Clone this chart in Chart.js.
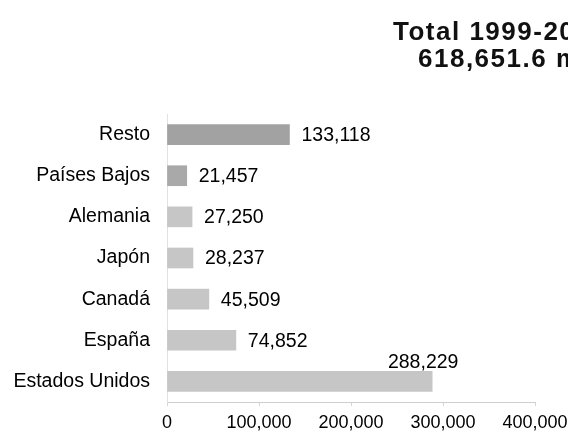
<!DOCTYPE html>
<html>
<head>
    <title>Total 1999-2004</title>
    <meta charset="utf-8">
    <script src="https://cdn.jsdelivr.net/npm/chart.js@4/dist/chart.umd.min.js"></script>
    <style>
      html, body { margin: 0; padding: 0; background: #fff; overflow: hidden; }
      .wrap { position: relative; width: 568px; height: 440px; overflow: hidden; }
      .title {
        position: absolute;
        font-family: "Liberation Sans", Arial, sans-serif;
        font-weight: bold;
        font-size: 26px;
        color: #111;
        white-space: nowrap;
        letter-spacing: 1.5px;
      }
      #t1 { left: 393px; top: 16px; }
      #t2 { left: 418px; top: 43px; }
      canvas { position: absolute; left: 0; top: 0; }
    </style>
</head>
<body>
    <div class="wrap">
        <canvas id="chart" width="568" height="440"></canvas>
        <div class="title" id="t1">Total 1999-2004</div>
        <div class="title" id="t2">618,651.6 mdd</div>
    </div>

    <script>
        // categorias de arriba hacia abajo
        const paises = ['Resto', 'Países Bajos', 'Alemania', 'Japón', 'Canadá', 'España', 'Estados Unidos'];
        const montos = [133118, 21457, 27250, 28237, 45509, 74852, 288229];
        const xTicks = [0, 100000, 200000, 300000, 400000];

        function fmt(v) {
            return v.toLocaleString('en-US');
        }

        function barColor(i) {
            if (i === 0) return '#a2a2a2';
            if (i === 1) return '#a9a9a9';
            return '#c6c6c6';
        }

        // etiquetas de valor junto a cada barra
        const valueLabels = {
            id: 'valueLabels',
            afterDatasetsDraw(chart) {
                const ctx = chart.ctx;
                const meta = chart.getDatasetMeta(0);
                ctx.save();
                ctx.font = '19.5px "Liberation Sans", Arial, sans-serif';
                ctx.fillStyle = '#000';
                ctx.textBaseline = 'middle';
                meta.data.forEach((bar, i) => {
                    const txt = fmt(montos[i]);
                    if (i === montos.length - 1) {
                        ctx.textAlign = 'center';
                        ctx.fillText(txt, bar.x - 9, bar.y - 19);
                    } else {
                        ctx.textAlign = 'left';
                        ctx.fillText(txt, bar.x + 12, bar.y + 1);
                    }
                });
                ctx.restore();
            }
        };

        let ctx = document.getElementById('chart').getContext('2d');
        let chart = new Chart(ctx, {
            type: 'bar',
            data: {
                labels: paises,
                datasets: [{
                    data: montos,
                    backgroundColor: montos.map((_, i) => barColor(i)),
                    borderWidth: 0,
                    barThickness: 20
                }]
            },
            options: {
                indexAxis: 'y',
                responsive: false,
                animation: false,
                layout: {
                    padding: { top: 114, right: 33, bottom: 0, left: 0 }
                },
                plugins: {
                    legend: { display: false },
                    tooltip: { enabled: false }
                },
                scales: {
                    x: {
                        min: 0,
                        max: 400000,
                        afterBuildTicks: scale => {
                            scale.ticks = xTicks.map(v => ({ value: v }));
                        },
                        afterFit: scale => {
                            scale.height = 38;
                            scale.paddingLeft = 0;
                            scale.paddingRight = 0;
                        },
                        grid: {
                            display: true,
                            drawOnChartArea: false,
                            drawTicks: true,
                            tickLength: 4,
                            color: '#d4d4d4'
                        },
                        border: { display: true, color: '#cfcfcf' },
                        ticks: {
                            padding: 6,
                            color: '#000',
                            font: { family: '"Liberation Sans", Arial, sans-serif', size: 18 },
                            callback: v => fmt(v),
                            maxRotation: 0
                        }
                    },
                    y: {
                        afterFit: scale => { scale.width = 167; },
                        grid: { display: false },
                        border: { display: true, color: '#e2e2e2' },
                        ticks: {
                            padding: 9,
                            color: '#000',
                            font: { family: '"Liberation Sans", Arial, sans-serif', size: 19.5 }
                        }
                    }
                }
            },
            plugins: [valueLabels]
        });
    </script>
</body>
</html>
